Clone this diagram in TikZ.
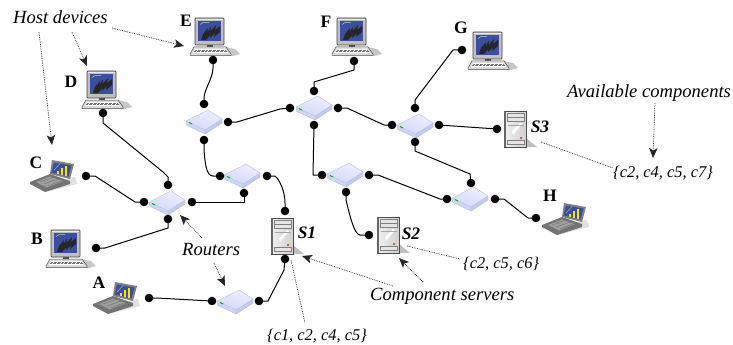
\documentclass[tikz,border=0pt]{standalone}
\usepackage{fontspec}
\setmainfont{Liberation Serif}
\usetikzlibrary{arrows.meta}
\definecolor{scrblue}{HTML}{3C4F9E}
\definecolor{rtop}{HTML}{E4E8FF}
\definecolor{rside}{HTML}{C2CAF4}
\definecolor{redge}{HTML}{B4BCE6}
\tikzset{
 link/.style={line width=1pt,black,line join=round},
 dotn/.style={circle,fill=black,inner sep=0pt,minimum size=8.6pt,draw=none},
 dots/.style={line width=0.75pt,densely dotted,black!85},
 dotarrow/.style={dots,-{Stealth[length=10pt,width=8.5pt,inset=2.5pt]}},
 caption/.style={font=\itshape\fontsize{18.6}{20}\selectfont,inner sep=0pt,anchor=base west},
 compset/.style={font=\itshape\fontsize{16.4}{18}\selectfont,inner sep=0pt,anchor=base west},
 hostlabel/.style={font=\bfseries\fontsize{17.5}{18}\selectfont,inner sep=0pt},
 srvlabel/.style={font=\bfseries\itshape\fontsize{17.5}{18}\selectfont,inner sep=0pt},
 router/.pic={
  \coordinate (-c) at (0,0);
  \fill[rside!80!white] (-18,-1) -- (1,8) -- (18,-3) -- (18,1) -- (1,12) -- (-18,3) -- cycle;
  \fill[rside] (1,8) -- (18,-3) -- (18,1) -- (1,12) -- cycle;
  \shade[top color=rtop!70!white,bottom color=rside!70!white,shading angle=-20] (-18,-1) -- (4,-12) -- (18,-3) -- (1,8) -- cycle;
  \draw[redge,line width=0.4pt,line join=round] (-18,-1) -- (4,-12) -- (18,-3) -- (18,1) -- (1,12) -- (-18,3) -- cycle (-18,-1) -- (1,8) -- (18,-3) (1,8) -- (1,12);
  \draw[green!70!black,line width=1pt] (-15,0.5) -- (-12,2);
 },
 desktop/.pic={
  \coordinate (-c) at (15,14);
  \fill[black!22] (30,29) -- (40,31) -- (45,36) -- (38,38) -- (30,37) -- cycle;
  \fill[black!70] (12,25) rectangle (18,29);
  \draw[black!70,fill=black!15,line width=0.5pt,line join=round] (-1,29) -- (31,29) -- (36,36) -- (36,37.5) -- (-5,37.5) -- (-5,36) -- cycle;
  \fill[white] (0,31) -- (30,31) -- (33,35) -- (-2,35) -- cycle;
  \draw[black!55,line width=0.35pt,densely dotted] (0,32) -- (31,32) (-1,33.5) -- (32,33.5);
  \draw[black!75,fill=black!25,line width=0.7pt,rounded corners=0.8pt] (0,0) rectangle (29,27);
  \draw[black!8,line width=0.5pt] (1,1.2) -- (28,1.2);
  \fill[scrblue] (3,3) rectangle (26,23);
  \draw[white!70!scrblue,line width=0.5pt] (5,6.5) -- (8,4.5) -- (14,4.5);
  \fill[black!85] (6,22) -- (8,16) -- (13,10) -- (12.5,14) -- (16,8.5) -- (15.5,13) -- (21,7) -- (20,12) -- (25,8) -- (25,14) -- (19,19) -- (20,15) -- (15,20) -- (15.5,17) -- (11,22) -- cycle;
 },
 laptop/.pic={
  \coordinate (-c) at (22,16);
  \fill[black!12] (16,32) -- (47,24) -- (45,17) -- (38,18) -- cycle;
  \fill[black!55,line join=round] (0,22) -- (20,14) -- (40,21) -- (40,24) -- (15,32) -- (0,24) -- cycle;
  \fill[black!38] (6,22) -- (20,16.5) -- (33,21) -- (17,27.5) -- cycle;
  \draw[black!60,line width=0.3pt] (10,22) -- (24,17) (14,24) -- (28,19) (18,26) -- (31,21);
  \fill[black!50,line join=round] (22,0) -- (44,4) -- (40,19) -- (20,14) -- cycle;
  \fill[scrblue] (24,2.5) -- (41.5,5.5) -- (38.5,16.5) -- (21.5,12.5) -- cycle;
  \draw[white!60!scrblue,line width=0.4pt] (24,10) -- (30,3.5);
  \fill[yellow!85!orange] (27,11) rectangle (29,14.3);
  \fill[yellow!85!orange] (30.5,7.5) rectangle (32.8,15.2);
  \fill[yellow!85!orange] (34.5,5.5) rectangle (36.5,16);
 },
 server/.pic={
  \coordinate (-c) at (11,18);
  \fill[black!25] (22,27) -- (33,36) -- (2,36.5) -- (2,33) -- (22,33) -- cycle;
  \shade[left color=black!6,right color=black!18,draw=black!70,line width=0.7pt] (0,0) rectangle (22,36);
  \fill[black!60] (0,0) rectangle (1.5,36);
  \fill[white] (8,20) -- (16,12) -- (18,13) -- (9,24) -- cycle;
  \draw[black!50,fill=black!10,line width=0.4pt] (3.5,2.5) rectangle (20,6.5);
  \draw[black!50,fill=black!10,line width=0.4pt] (3.5,6.5) rectangle (20,10.5);
  \draw[black!35] (3.5,14) -- (20,14);
  \draw[black!50,fill=black!10,line width=0.4pt] (3.5,29.5) rectangle (20,33);
  \fill[orange!80!black] (15.5,26) rectangle (18,27.5);
 },
}
\begin{document}
\begin{tikzpicture}[x=1pt,y=-1pt]
\useasboundingbox (0,0) rectangle (733,345);
% devices
\pic (hE) at (195,18) {desktop};
\pic (hD) at (87,71) {desktop};
\pic (hF) at (337,18) {desktop};
\pic (hG) at (473,32) {desktop};
\pic (hB) at (51,230) {desktop};
\pic (hA) at (93,282) {laptop};
\pic (hC) at (30,160) {laptop};
\pic (hH) at (542,203) {laptop};
\pic (s1) at (271,218) {server};
\pic (s2) at (377,217) {server};
\pic (s3) at (504,111) {server};
% routers
\pic (r1) at (167,203) {router};
\pic (r2) at (204,122) {router};
\pic (r3) at (242,176) {router};
\pic (r4) at (235,302) {router};
\pic (r5) at (314,108) {router};
\pic (r6) at (415,126) {router};
\pic (r7) at (345,175) {router};
\pic (r8) at (470,199) {router};
% ports
\node[dotn] (pE) at (213,60) {};
\node[dotn] (pD) at (103,113) {};
\node[dotn] (pF) at (354,61) {};
\node[dotn] (pG) at (462,50) {};
\node[dotn] (pC) at (86,176) {};
\node[dotn] (pB) at (96,248) {};
\node[dotn] (pA) at (149,298) {};
\node[dotn] (pH) at (536,218) {};
\node[dotn] (pS1t) at (285,211) {};
\node[dotn] (pS1b) at (285,259) {};
\node[dotn] (pS2) at (369,235) {};
\node[dotn] (pS3) at (497,129) {};
\node[dotn] (r1t) at (168,185) {};
\node[dotn] (r1l) at (144,202) {};
\node[dotn] (r1r) at (192,202) {};
\node[dotn] (r1b) at (168,219) {};
\node[dotn] (r2t) at (204,104) {};
\node[dotn] (r2r) at (228,122) {};
\node[dotn] (r2b) at (204,140) {};
\node[dotn] (r3l) at (220,176) {};
\node[dotn] (r3r) at (267,176) {};
\node[dotn] (r3b) at (244,193) {};
\node[dotn] (r4l) at (212,301) {};
\node[dotn] (r4r) at (259,301) {};
\node[dotn] (r5l) at (290,108) {};
\node[dotn] (r5t) at (314,91) {};
\node[dotn] (r5r) at (338,108) {};
\node[dotn] (r5b) at (314,125) {};
\node[dotn] (r6l) at (392,125) {};
\node[dotn] (r6t) at (415,108) {};
\node[dotn] (r6r) at (439,125) {};
\node[dotn] (r6b) at (415,142) {};
\node[dotn] (r7l) at (322,175) {};
\node[dotn] (r7r) at (369,175) {};
\node[dotn] (r7b) at (346,192) {};
\node[dotn] (r8t) at (471,183) {};
\node[dotn] (r8l) at (447,199) {};
\node[dotn] (r8r) at (495,199) {};
% links
\draw[link] (pE.center) -- (213,68) .. controls (213,78) and (204,90) .. (204,98) -- (r2t.center);
\draw[link] (pD.center) -- ++(0,10) -- ++(60,49) -- ++(5,5) -- (r1t.center);
\draw[link] (pF.center) -- ++(0,9) -- ++(-40,12) -- (r5t.center);
\draw[link] (pG.center) -- ++(-9,0) -- ++(-38,50) -- (r6t.center);
\draw[link] (pC.center) -- ++(9,0) -- ++(40,26) -- (r1l.center);
\draw[link] (pB.center) -- ++(9,0) -- ++(63,-20) -- (r1b.center);
\draw[link] (pA.center) -- ++(8,0) -- ++(54,3) -- (r4l.center);
\draw[link] (r4r.center) -- ++(9,0) -- ++(16,-31) -- (pS1b.center);
\draw[link] (r2r.center) -- ++(9,0) -- ++(43,-13) -- (r5l.center);
\draw[link] (r2b.center) -- (204,150) .. controls (205,162) and (206,176) .. (213,176) -- (r3l.center);
\draw[link] (r3r.center) -- (275,176) .. controls (280,180) and (285,192) .. (285,203) -- (pS1t.center);
\draw[link] (r1r.center) -- (244,202) -- (r3b.center);
\draw[link] (r5r.center) -- ++(9,0) -- ++(37,17) -- (r6l.center);
\draw[link] (r5b.center) -- ++(-1,50) -- (r7l.center);
\draw[link] (r6r.center) -- (pS3.center);
\draw[link] (r6b.center) -- ++(0,9) -- ++(55,23) -- (r8t.center);
\draw[link] (r7r.center) -- ++(9,0) -- ++(62,24) -- (r8l.center);
\draw[link] (r7b.center) -- (346,200) .. controls (349,212) and (354,235) .. (360,235) -- (pS2.center);
\draw[link] (r8r.center) -- ++(9,0) -- ++(24,19) -- (pH.center);
% captions
\node[caption] (host) at (13,24) {Host devices};
\node[caption] (routers) at (182,255) {Routers};
\node[caption] (comp) at (370,300) {Component servers};
\node[caption] (avail) at (567,97) {Available components};
\node[compset] (set1) at (267,340) {\{c1, c2, c4, c5\}};
\node[compset] (set2) at (463,268) {\{c2, c5, c6\}};
\node[compset] (set3) at (613,177) {\{c2, c4, c5, c7\}};
% host labels
\node[hostlabel] (lA) at (99,283) {A};
\node[hostlabel] (lB) at (37,239) {B};
\node[hostlabel] (lC) at (36,163) {C};
\node[hostlabel] (lD) at (71,82) {D};
\node[hostlabel] (lE) at (186,21) {E};
\node[hostlabel] (lF) at (326,22) {F};
\node[hostlabel] (lG) at (461,28) {G};
\node[hostlabel] (lH) at (550,196) {H};
\node[srvlabel] (lS1) at (307,233) {S1};
\node[srvlabel] (lS2) at (411,234) {S2};
\node[srvlabel] (lS3) at (540,127) {S3};
% annotation leaders
\coordinate (aC) at (52,145);
\coordinate (aD) at (87,66);
\coordinate (aE) at (184,46);
\coordinate (aR1) at (180,215);
\coordinate (aR4) at (225,286);
\coordinate (aS1) at (302,256);
\coordinate (aS2) at (399,258);
\coordinate (aSet) at (653,158);
\coordinate (fS1) at (291,260);
\coordinate (fS2) at (407,246);
\coordinate (fS3) at (541,142);
\draw[dotarrow] (39,32) -- (aC);
\draw[dotarrow] (72,32) -- (aD);
\draw[dotarrow] (112,28) -- (aE);
\draw[dotarrow] (202,238) -- (aR1);
\draw[dotarrow] (214,263) -- (aR4);
\draw[dotarrow] (393,286) -- (aS1);
\draw[dotarrow] (423,282) -- (aS2);
\draw[dotarrow] (655,103) -- (aSet);
\draw[dots] (fS1) -- (305,323);
\draw[dots] (fS2) -- (460,259);
\draw[dots] (fS3) -- (613,168);
\end{tikzpicture}
\end{document}
